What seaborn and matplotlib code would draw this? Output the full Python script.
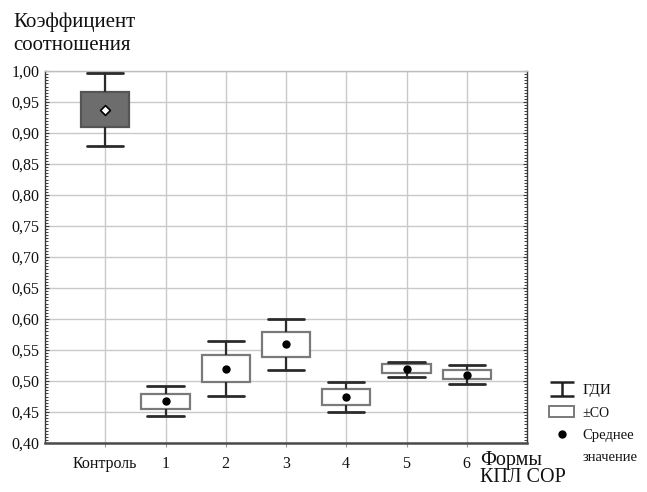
import numpy as np
import pandas as pd
import seaborn as sns
import matplotlib.pyplot as plt
from matplotlib.lines import Line2D
from matplotlib.patches import Patch
from matplotlib.path import Path
from matplotlib.ticker import MultipleLocator

# Groups along the x axis
groups = ["Контроль", "1", "2", "3", "4", "5", "6"]
# Mean value of the ratio coefficient per group
mean_vals = [0.937, 0.468, 0.520, 0.560, 0.475, 0.520, 0.510]
# Mean ± SD (box edges)
sd_low = [0.909, 0.455, 0.498, 0.539, 0.462, 0.5135, 0.503]
sd_high = [0.966, 0.4795, 0.5415, 0.5795, 0.4866, 0.527, 0.518]
# Confidence interval (whisker ends)
ci_low = [0.879, 0.4435, 0.476, 0.518, 0.450, 0.5065, 0.495]
ci_high = [0.997, 0.4915, 0.564, 0.600, 0.499, 0.531, 0.5258]

y_ticks = [0.40, 0.45, 0.50, 0.55, 0.60, 0.65, 0.70, 0.75, 0.80, 0.85, 0.90, 0.95, 1.00]
y_labels = ["0,40", "0,45", "0,50", "0,55", "0,60", "0,65", "0,70",
            "0,75", "0,80", "0,85", "0,90", "0,95", "1,00"]

legend_labels = ["ГДИ", "±СО", "Среднее", "значение"]

# Five summary points per group: whisker low, box low, mean, box high, whisker high.
# Quartiles of these fall on the box edges, min/max on the whisker ends.
rows = []
for g, a, b, m, c, d in zip(groups, ci_low, sd_low, mean_vals, sd_high, ci_high):
    for v in (a, b, m, c, d):
        rows.append({"group": g, "value": v})
box_df = pd.DataFrame(rows)
mean_df = pd.DataFrame({"group": groups, "value": mean_vals})

sns.set_theme(style="white")
plt.rcParams["font.family"] = ["Liberation Serif", "DejaVu Serif"]

fig, ax = plt.subplots(figsize=(6.47, 4.92), dpi=100)
fig.subplots_adjust(left=45 / 647, right=527 / 647, bottom=1 - 443 / 492, top=1 - 71 / 492)

fill_colors = {g: ("#6d6d6d" if g == "Контроль" else "white") for g in groups}

sns.boxplot(
    data=box_df, x="group", y="value", hue="group", order=groups, hue_order=groups,
    palette=fill_colors, legend=False, whis=np.inf, width=0.8, capwidths=0.6,
    ax=ax, zorder=3,
    boxprops={"edgecolor": "#7a7a7a", "linewidth": 1.6},
    whiskerprops={"color": "#2b2b2b", "linewidth": 1.6},
    capprops={"color": "#2b2b2b", "linewidth": 2.0},
    medianprops={"linewidth": 0},
)
# darker outline for the control box
if ax.patches:
    ax.patches[0].set_edgecolor("#555555")

# group means
ctrl = mean_df[mean_df["group"] == "Контроль"]
rest = mean_df[mean_df["group"] != "Контроль"]
sns.stripplot(data=rest, x="group", y="value", order=groups, jitter=False,
              color="black", size=6, ax=ax, zorder=5)
sns.stripplot(data=ctrl, x="group", y="value", order=groups, jitter=False,
              color="white", marker="D", size=5, edgecolor="black", linewidth=1.2,
              ax=ax, zorder=5)

ax.set_xlim(-1, 7)
ax.set_ylim(0.40, 1.00)
ax.set_yticks(y_ticks)
ax.set_yticklabels(y_labels)
ax.yaxis.set_minor_locator(MultipleLocator(0.005))
ax.set_xlabel("")
ax.set_ylabel("")

ax.grid(True, which="major", color="#c9c9c9", linewidth=1.0, zorder=0)
ax.set_axisbelow(True)

for side in ("left", "right"):
    ax.spines[side].set_color("#3a3a3a")
    ax.spines[side].set_linewidth(1.0)
ax.spines["top"].set_color("#bdbdbd")
ax.spines["top"].set_linewidth(1.0)
ax.spines["bottom"].set_color("#4a4a4a")
ax.spines["bottom"].set_linewidth(1.8)

ax.tick_params(axis="y", which="major", left=True, right=True, direction="in",
               length=3, width=0.8, color="#3a3a3a", labelsize=11.5, pad=4,
               labelcolor="#111111")
ax.tick_params(axis="y", which="minor", left=True, right=True, direction="in",
               length=2, width=0.7, color="#3a3a3a")
ax.tick_params(axis="x", which="major", bottom=True, direction="out", length=3,
               width=0.8, color="#9a9a9a", labelsize=11.5, pad=6, labelcolor="#111111")

fig.text(13 / 647, 1 - 13 / 492, "Коэффициент\nсоотношения", ha="left", va="top",
         fontsize=15, linespacing=1.25, color="#111111")
fig.text(480 / 647, 1 - 451 / 492, "Формы\nКПЛ СОР", ha="left", va="top",
         fontsize=14.5, linespacing=0.88, color="#111111")

w = 0.56
whisker_path = Path([(-1, w), (1, w), (0, w), (0, -w), (-1, -w), (1, -w)],
                    [Path.MOVETO, Path.LINETO, Path.MOVETO, Path.LINETO,
                     Path.MOVETO, Path.LINETO])
handles = [
    Line2D([], [], marker=whisker_path, markersize=17, color="#222222",
           markeredgewidth=1.8, linestyle="none"),
    Patch(facecolor="white", edgecolor="#7a7a7a", linewidth=1.4),
    Line2D([], [], marker="o", markersize=5, color="black", linestyle="none"),
    Line2D([], [], linestyle="none"),
]
leg = fig.legend(handles, legend_labels, loc="upper left",
                 bbox_to_anchor=(549 / 647, 1 - 384 / 492), frameon=False,
                 borderpad=0, borderaxespad=0,
                 handlelength=1.65, handleheight=0.65, handletextpad=0.55,
                 labelspacing=0.58, fontsize=11)
sizes = [11, 10, 10.5, 10.5]
for t, s in zip(leg.get_texts(), sizes):
    t.set_fontsize(s)
    t.set_color("#111111")

fig.savefig("out.png", dpi=100)
